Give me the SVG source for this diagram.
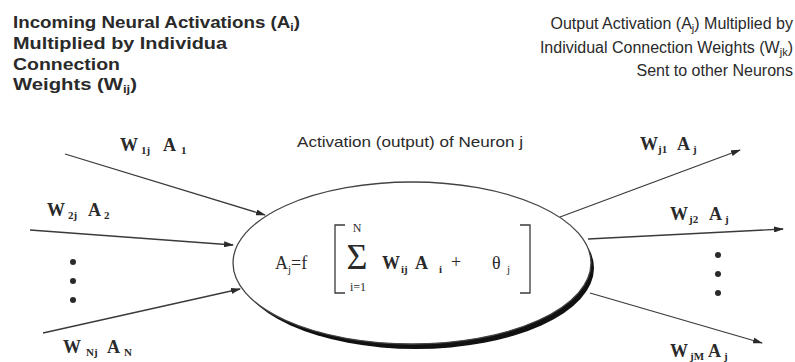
<svg xmlns="http://www.w3.org/2000/svg" width="795" height="362" viewBox="0 0 795 362">
<style>
.hdl{font-family:"Liberation Sans",Arial,sans-serif;font-weight:bold;font-size:17px;fill:#2a2a2a}
.hdr{font-family:"Liberation Sans",Arial,sans-serif;font-size:16px;fill:#2a2a2a}
.ttl{font-family:"Liberation Sans",Arial,sans-serif;font-size:15px;fill:#2a2a2a}
.lbl{font-family:"Liberation Serif","Times New Roman",serif;font-weight:bold;font-size:18px;fill:#2a2a2a}
.sub{font-size:11px}
.fm{font-family:"Liberation Serif","Times New Roman",serif;font-size:18px;fill:#2a2a2a}
.fb{font-weight:bold}
.sig{font-size:36px}
.lim{font-size:12px}
.ln{stroke:#3a3a3a;stroke-width:1.3;fill:none}
.dot{fill:#2a2a2a}
</style>
<defs>
<marker id="ah" viewBox="0 0 10 6" refX="9" refY="3" markerWidth="10" markerHeight="6" markerUnits="userSpaceOnUse" orient="auto">
<path d="M0,0 L10,3 L0,6 Z" fill="#2a2a2a"/>
</marker>
</defs>
<rect width="795" height="362" fill="#ffffff"/>

<g id="header-left">
<text class="hdl" x="13" y="28" textLength="287" lengthAdjust="spacingAndGlyphs">Incoming Neural Activations (A<tspan class="sub" dy="3">i</tspan><tspan dy="-3">)</tspan></text>
<text class="hdl" x="13" y="49" textLength="214" lengthAdjust="spacingAndGlyphs">Multiplied by Individua</text>
<text class="hdl" x="13" y="70" textLength="107" lengthAdjust="spacingAndGlyphs">Connection</text>
<text class="hdl" x="13" y="90" textLength="124" lengthAdjust="spacingAndGlyphs">Weights (W<tspan class="sub" dy="3">ij</tspan><tspan dy="-3">)</tspan></text>
</g>

<g id="header-right">
<text class="hdr" x="793" y="29" text-anchor="end">Output Activation (A<tspan class="sub" dy="3">j</tspan><tspan dy="-3">) Multiplied by</tspan></text>
<text class="hdr" x="793" y="53" text-anchor="end">Individual Connection Weights (W<tspan class="sub" dy="3">jk</tspan><tspan dy="-3">)</tspan></text>
<text class="hdr" x="793" y="76" text-anchor="end">Sent to other Neurons</text>
</g>

<g id="title">
<text class="ttl" x="297" y="147" textLength="226" lengthAdjust="spacingAndGlyphs">Activation (output) of Neuron j</text>
</g>

<g id="connectors">
<line class="ln" x1="65" y1="154" x2="265" y2="215" marker-end="url(#ah)"/>
<line class="ln" x1="30" y1="230" x2="233" y2="245" marker-end="url(#ah)"/>
<line class="ln" x1="43" y1="333" x2="240" y2="289" marker-end="url(#ah)"/>
<line class="ln" x1="560" y1="217" x2="740" y2="150" marker-end="url(#ah)"/>
<line class="ln" x1="588" y1="239" x2="783" y2="229" marker-end="url(#ah)"/>
<line class="ln" x1="590" y1="293" x2="762" y2="343" marker-end="url(#ah)"/>
</g>

<g id="neuron">
<ellipse cx="416" cy="268" rx="178" ry="81" fill="#111"/>
<ellipse cx="412" cy="263" rx="179" ry="81" fill="#fff" stroke="#444" stroke-width="1.3"/>
<text class="fm" x="275" y="269">A<tspan class="sub" dy="4">j</tspan><tspan dy="-4">=f</tspan></text>
<path class="ln" d="M345,225 L335,225 L335,293 L345,293"/>
<text class="fm sig" x="357" y="269" text-anchor="middle">Σ</text>
<text class="fm lim" x="357" y="232" text-anchor="middle">N</text>
<text class="fm lim" x="358" y="291" text-anchor="middle">i=1</text>
<text class="fm fb" x="382" y="269">W<tspan class="sub" dy="4" x="401">ij</tspan></text>
<text class="fm fb" x="415" y="269">A<tspan class="sub" dy="4" x="439">i</tspan></text>
<text class="fm" x="451" y="268">+</text>
<text class="fm" x="492" y="269">θ<tspan class="sub" dy="4" x="507">j</tspan></text>
<path class="ln" d="M520,225 L530,225 L530,293 L520,293"/>
</g>

<g id="input-labels">
<text class="lbl" x="120" y="151">W<tspan class="sub" x="141" dy="3">1j</tspan><tspan x="163" dy="-3">A</tspan><tspan class="sub" x="181" dy="3">1</tspan></text>
<text class="lbl" x="47" y="216">W<tspan class="sub" x="68" dy="3">2j</tspan><tspan x="88" dy="-3">A</tspan><tspan class="sub" x="104" dy="3">2</tspan></text>
<text class="lbl" x="63" y="353">W<tspan class="sub" x="86" dy="3">Nj</tspan><tspan x="107" dy="-3">A</tspan><tspan class="sub" x="124" dy="3">N</tspan></text>
<circle class="dot" cx="73" cy="262" r="3"/>
<circle class="dot" cx="73" cy="281" r="3"/>
<circle class="dot" cx="73" cy="300" r="3"/>
</g>

<g id="output-labels">
<text class="lbl" x="640" y="150">W<tspan class="sub" x="658" dy="3">j1</tspan><tspan x="677" dy="-3">A</tspan><tspan class="sub" x="693" dy="3">j</tspan></text>
<text class="lbl" x="670" y="220">W<tspan class="sub" x="689" dy="3">j2</tspan><tspan x="709" dy="-3">A</tspan><tspan class="sub" x="725" dy="3">j</tspan></text>
<text class="lbl" x="670" y="357">W<tspan class="sub" x="690" dy="3">jM</tspan><tspan x="708" dy="-3">A</tspan><tspan class="sub" x="724" dy="3">j</tspan></text>
<circle class="dot" cx="718" cy="255" r="3"/>
<circle class="dot" cx="718" cy="274" r="3"/>
<circle class="dot" cx="718" cy="293" r="3"/>
</g>
</svg>
